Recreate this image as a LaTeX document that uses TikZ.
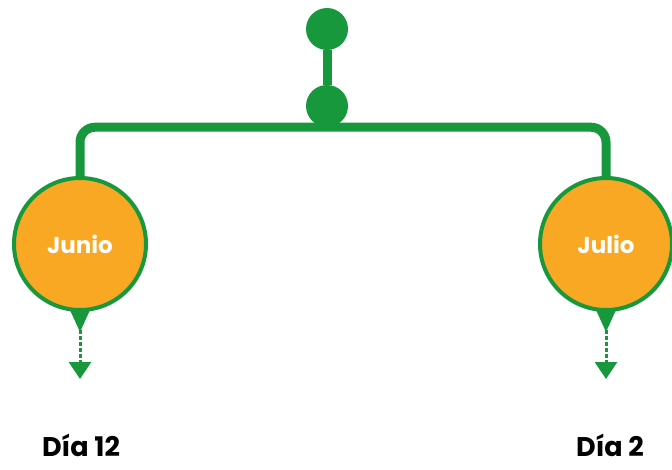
\documentclass[tikz,border=0pt]{standalone}
\usepackage{fontspec}
\setmainfont{Poppins}
\usetikzlibrary{arrows.meta}
\definecolor{verde}{RGB}{24,152,60}
\definecolor{naranja}{RGB}{248,168,35}

\begin{document}
\begin{tikzpicture}[x=1pt,y=-1pt,
  punto/.style={circle,fill=verde,minimum size=42pt,inner sep=0pt},
  mes/.style={circle,draw=verde,line width=4pt,fill=naranja,minimum size=132pt,inner sep=0pt,
    text=white,font=\bfseries\fontsize{23}{26}\selectfont},
  rama/.style={draw=verde,line width=9pt},
  embudo/.style={fill=verde},
  flecha/.style={draw=verde,line width=3pt,dash pattern=on 4pt off 2pt,
    -{Triangle[width=22pt,length=17pt]}},
  dia/.style={anchor=base,inner sep=0pt,font=\bfseries\fontsize{27}{30}\selectfont}]
\useasboundingbox (0,0) rectangle (672,469);

% puntos de arriba
\node[punto] (raiz) at (327,29) {};
\node[punto] (nudo) at (327,106) {};

% meses
\node[mes] (junio) at (80,244) {Junio};
\node[mes] (julio) at (606,244) {Julio};

\draw[rama] (raiz) -- (nudo);
\draw[rama,rounded corners=15pt] (nudo.south) -| (junio.north);
\draw[rama,rounded corners=15pt] (nudo.south) -| (julio.north);

% flechas hacia abajo
\path (junio.south) ++(0,67) coordinate (puntaJunio);
\path (julio.south) ++(0,67) coordinate (puntaJulio);
\fill[embudo] (junio.south) ++(-10,-2) -- ++(20,0) -- ++(-10,22) -- cycle;
\fill[embudo] (julio.south) ++(-10,-2) -- ++(20,0) -- ++(-10,22) -- cycle;
\draw[flecha] (junio.south) -- (puntaJunio);
\draw[flecha] (julio.south) -- (puntaJulio);

\node[dia] (dia12) at (81,456) {Día 12};
\node[dia] (dia2) at (610,456) {Día 2};
\end{tikzpicture}
\end{document}
